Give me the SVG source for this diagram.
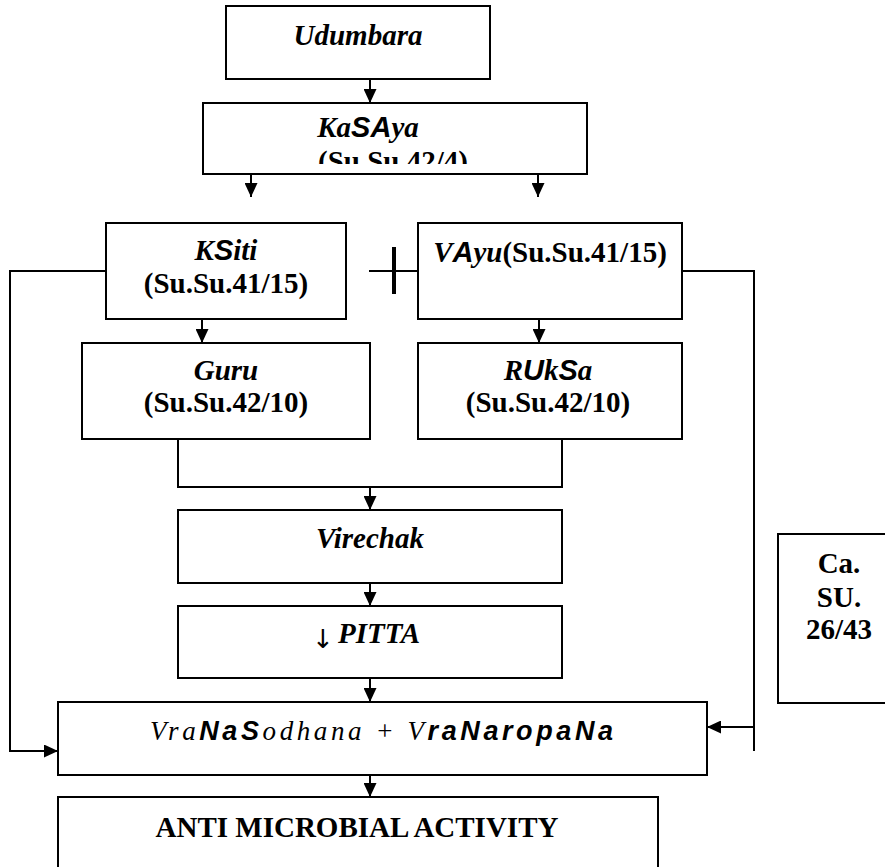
<svg xmlns="http://www.w3.org/2000/svg" width="885" height="867" viewBox="0 0 885 867">
<style>
.box{fill:#fff;stroke:#000;stroke-width:2}
.c{fill:none;stroke:#000;stroke-width:2}
.t{font-family:"Liberation Serif","Times New Roman",serif;font-size:29px;font-weight:bold;fill:#000}
.bi{font-style:italic}
.sa{font-family:"Liberation Sans",Arial,sans-serif;font-weight:bold;font-style:italic}
</style>
<defs>
<marker id="ah" viewBox="0 0 14 13" refX="14" refY="6.5" markerWidth="14" markerHeight="13" markerUnits="userSpaceOnUse" orient="auto">
<path d="M0,0 L14,6.5 L0,13 Z" fill="#000"/>
</marker>
<clipPath id="kclip"><rect x="204" y="104" width="382" height="60"/></clipPath>
</defs>
<g id="connectors">
<path class="c" d="M370,79 V103" marker-end="url(#ah)"/>
<path class="c" d="M251,174 V197" marker-end="url(#ah)"/>
<path class="c" d="M538,174 V197" marker-end="url(#ah)"/>
<path class="c" d="M202,319 V343" marker-end="url(#ah)"/>
<path class="c" d="M539,319 V343" marker-end="url(#ah)"/>
<path class="c" d="M178,439 V487 H562 V439"/>
<path class="c" d="M370,487 V510" marker-end="url(#ah)"/>
<path class="c" d="M370,583 V606" marker-end="url(#ah)"/>
<path class="c" d="M370,678 V702" marker-end="url(#ah)"/>
<path class="c" d="M370,775 V797" marker-end="url(#ah)"/>
<path class="c" d="M106,271 H10 V751 H58" marker-end="url(#ah)"/>
<path class="c" d="M682,271 H754 V751"/>
<path class="c" d="M754,727 H707" marker-end="url(#ah)"/>
<path class="c" d="M369,271 H418"/>
<path d="M394,247 V294" stroke="#000" stroke-width="4"/>
</g>
<g id="udumbara">
<rect class="box" x="226" y="6" width="264" height="73"/>
<text class="t bi" x="358" y="45" text-anchor="middle">Udumbara</text>
</g>
<g id="kasaya">
<rect class="box" x="203" y="103" width="384" height="71"/>
<text class="t bi" x="368" y="137" text-anchor="middle">Ka<tspan class="sa">SA</tspan>ya</text>
<text class="t" x="393" y="171" text-anchor="middle" clip-path="url(#kclip)">(Su.Su.42/4)</text>
</g>
<g id="ksiti">
<rect class="box" x="106" y="223" width="240" height="96"/>
<text class="t" x="226" y="260" text-anchor="middle"><tspan class="bi">K</tspan><tspan class="sa">S</tspan><tspan class="bi">iti</tspan></text>
<text class="t" x="226" y="293" text-anchor="middle">(Su.Su.41/15)</text>
</g>
<g id="vayu">
<rect class="box" x="418" y="223" width="264" height="96"/>
<text class="t" x="550" y="262" text-anchor="middle"><tspan class="bi">V</tspan><tspan class="sa">A</tspan><tspan class="bi">yu</tspan>(Su.Su.41/15)</text>
</g>
<g id="guru">
<rect class="box" x="82" y="343" width="288" height="96"/>
<text class="t bi" x="226" y="380" text-anchor="middle">Guru</text>
<text class="t" x="226" y="412" text-anchor="middle">(Su.Su.42/10)</text>
</g>
<g id="ruksa">
<rect class="box" x="418" y="343" width="264" height="96"/>
<text class="t" x="548" y="380" text-anchor="middle"><tspan class="bi">R</tspan><tspan class="sa">U</tspan><tspan class="bi">k</tspan><tspan class="sa">S</tspan><tspan class="bi">a</tspan></text>
<text class="t" x="548" y="412" text-anchor="middle">(Su.Su.42/10)</text>
</g>
<g id="virechak">
<rect class="box" x="178" y="510" width="384" height="73"/>
<text class="t bi" x="370" y="548" text-anchor="middle">Virechak</text>
</g>
<g id="pitta">
<rect class="box" x="178" y="606" width="384" height="72"/>
<text x="323" y="648" text-anchor="middle" font-family="'DejaVu Sans',sans-serif" font-size="26" font-weight="normal">↓</text>
<text class="t bi" x="338" y="643">PITTA</text>
</g>
<g id="vrana">
<rect class="box" x="58" y="702" width="649" height="73"/>
<text x="150" y="740" textLength="463" lengthAdjust="spacing" font-size="27" font-family="'Liberation Serif',serif"><tspan font-style="italic">Vra</tspan><tspan class="sa" font-style="normal">NaS</tspan><tspan font-style="italic">odhana + V</tspan><tspan class="sa">raNaropaNa</tspan></text>
</g>
<g id="anti">
<rect class="box" x="58" y="797" width="600" height="85"/>
<text class="t" x="357" y="837" text-anchor="middle">ANTI MICROBIAL ACTIVITY</text>
</g>
<g id="ref">
<rect class="box" x="778" y="534" width="120" height="169"/>
<text class="t" x="839" y="573" text-anchor="middle">Ca.</text>
<text class="t" x="839" y="607" text-anchor="middle">SU.</text>
<text class="t" x="839" y="639" text-anchor="middle">26/43</text>
</g>
</svg>
